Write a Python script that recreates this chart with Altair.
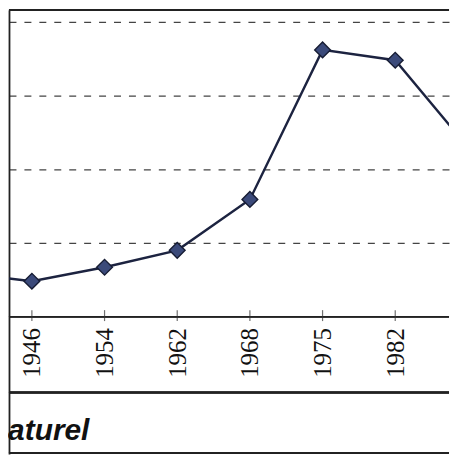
import altair as alt
import pandas as pd

# French census years; 1936 lies off the left edge, 1990 off the right edge
years = ["1936", "1946", "1954", "1962", "1968", "1975", "1982", "1990"]
values = [0.60, 0.48, 0.67, 0.90, 1.59, 3.62, 3.48, 2.30]
grid_values = [1, 2, 3, 4]
band_bottom = -1.03
frame_bottom = -1.85
title_text = "aturel"

idx = list(range(-1, len(years) - 1))
df = pd.DataFrame({"i": idx, "year": years, "v": values})
ticks_df = pd.DataFrame({"i": [i for i in idx if 0 <= i <= 5]})

label_expr = "[" + ",".join(f"'{y}'" for y in years) + "][datum.value + 1]"

W, H = 442, 446
Y_MIN, Y_MAX = -1.865, 4.162
xs = alt.Scale(domain=[-0.315, 5.740], nice=False, zero=False)
ys = alt.Scale(domain=[Y_MIN, Y_MAX], nice=False, zero=False)

base = alt.Chart(df)

line = base.mark_line(color="#1c2340", strokeWidth=2.4, clip=True).encode(
    x=alt.X("i:Q", scale=xs,
            axis=alt.Axis(values=[0, 1, 2, 3, 4, 5], labelExpr=label_expr,
                          labelAngle=-90, labelFont="Liberation Serif",
                          labelFontSize=25, labelColor="#111", labelPadding=11,
                          domain=False, ticks=False, grid=False, title=None,
                          offset=-138)),
    y=alt.Y("v:Q", scale=ys,
            axis=alt.Axis(values=grid_values, grid=True, gridDash=[7, 8],
                          gridColor="#444", gridWidth=1.3, labels=False,
                          ticks=False, domain=True, domainColor="#222",
                          domainWidth=1.8, title=None)),
)

pts = base.mark_point(shape="diamond", filled=True, size=250, color="#3b4a7a",
                      stroke="#161c33", strokeWidth=1.4, opacity=1,
                      clip=True).encode(
    x=alt.X("i:Q", scale=xs), y=alt.Y("v:Q", scale=ys))

axis_line = alt.Chart(df).mark_rule(color="#222", strokeWidth=1.4).encode(
    y=alt.datum(0, scale=ys))
band_line = alt.Chart(df).mark_rule(color="#222", strokeWidth=1.4).encode(
    y=alt.datum(band_bottom, scale=ys))
top_line = alt.Chart(df).mark_rule(color="#222", strokeWidth=1.8).encode(
    y=alt.datum(Y_MAX, scale=ys))
bottom_line = alt.Chart(df).mark_rule(color="#222", strokeWidth=1.8).encode(
    y=alt.datum(frame_bottom, scale=ys))

tk = alt.Chart(ticks_df).mark_tick(orient="vertical", size=11, thickness=1.2,
                                   color="#333", yOffset=-1).encode(
    x=alt.X("i:Q", scale=xs), y=alt.datum(0, scale=ys))

chart = alt.layer(band_line, axis_line, top_line, bottom_line, line, tk,
                  pts).properties(
    width=W, height=H, padding=0,
    title=alt.TitleParams(title_text, orient="bottom", anchor="start",
                          offset=-14, baseline="alphabetic",
                          font="Liberation Sans", fontSize=30,
                          fontWeight="bold", fontStyle="italic", color="#111"),
).configure(background="white").configure_view(stroke=None)

chart.save("out.html", embed_options={"renderer": "svg", "actions": False})
